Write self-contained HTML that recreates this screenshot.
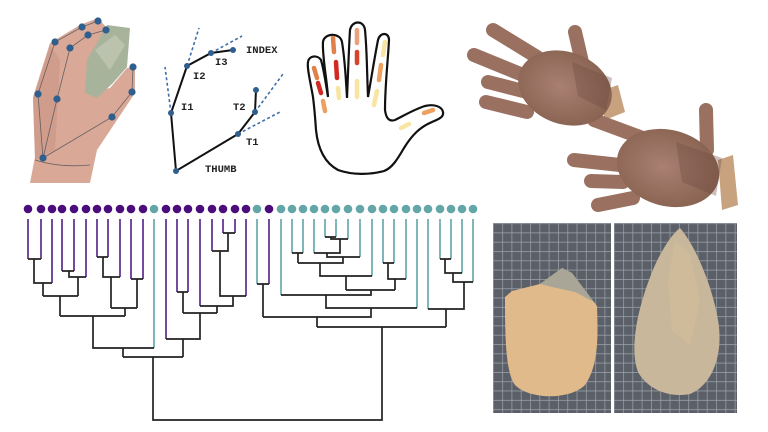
<!DOCTYPE html>
<html><head><meta charset="utf-8"><style>html,body{margin:0;padding:0;background:#fff}svg{display:block}</style></head>
<body>
<svg width="768" height="432" viewBox="0 0 768 432" xmlns="http://www.w3.org/2000/svg">
<defs>
<pattern id="grid" width="9.3" height="9.3" patternUnits="userSpaceOnUse">
<rect width="9.3" height="9.3" fill="#5a5f68"/>
<path d="M0 0.4H9.3M0.4 0V9.3" stroke="#9ea4ac" stroke-width="0.7"/>
</pattern>
<radialGradient id="skin" cx="0.45" cy="0.5" r="0.6"><stop offset="0" stop-color="#a98072"/><stop offset="1" stop-color="#86604f"/></radialGradient>
</defs>

<!-- top-left hand photo -->
<path d="M30 183 L35 157 L33 97 L50 43 L80 25 L98 18 L107 28 L100 43 L87 93 L110 88 L127 68 L135 67 L135 93 L117 120 L97 150 L90 183 Z" fill="#d9a896"/>
<path d="M35 160 L33 100 L50 45 L60 60 L55 150 Z" fill="#c99584" opacity="0.6"/>
<path d="M87 60 L107 25 L130 28 L127 67 L113 83 L97 98 L85 93 Z" fill="#a8b39c"/>
<path d="M95 50 L115 35 L125 45 L110 70 Z" fill="#c3cbb6" opacity="0.7"/>
<g stroke="#4a4f58" stroke-width="0.8" fill="none" opacity="0.8">
<path d="M43 158 L38 94 L55 42 L82 27 L98 21"/>
<path d="M43 158 L57 99 L70 48 L88 35 L106 30"/>
<path d="M43 158 L112 117 L132 92 L133 67"/>
<path d="M35 160 Q60 168 90 165"/>
</g>
<g fill="#2f5f8e">
<circle cx="98" cy="21" r="3.6"/><circle cx="82" cy="27" r="3.6"/><circle cx="106" cy="30" r="3.6"/><circle cx="88" cy="35" r="3.6"/><circle cx="55" cy="42" r="3.6"/><circle cx="70" cy="48" r="3.6"/><circle cx="133" cy="67" r="3.6"/><circle cx="132" cy="92" r="3.6"/><circle cx="38" cy="94" r="3.6"/><circle cx="57" cy="99" r="3.6"/><circle cx="112" cy="117" r="3.6"/><circle cx="43" cy="158" r="3.6"/>
</g>

<!-- skeleton diagram -->
<g stroke="#3f6ea8" stroke-width="1.6" stroke-dasharray="3,2.5" fill="none">
<path d="M171 113 L165 67"/><path d="M187 66 L199 28"/><path d="M211 53 L242 36"/><path d="M255 112 L283 74"/><path d="M238 134 L280 112"/>
</g>
<path d="M233 50 L211 53 L187 66 L171 113 L176 171 L238 134 L255 112 L256 90" stroke="#111" stroke-width="2" fill="none"/>
<g fill="#2f5f8e">
<circle cx="233" cy="50" r="3"/><circle cx="211" cy="53" r="3"/><circle cx="187" cy="66" r="3"/><circle cx="171" cy="113" r="3"/><circle cx="176" cy="171" r="3"/><circle cx="238" cy="134" r="3"/><circle cx="255" cy="112" r="3"/><circle cx="256" cy="90" r="3"/>
</g>
<g font-family="Liberation Mono, monospace" font-weight="bold" font-size="10.5" fill="#222">
<text x="246" y="53">INDEX</text><text x="215" y="65">I3</text><text x="193" y="79">I2</text><text x="181" y="110">I1</text><text x="233" y="110">T2</text><text x="246" y="145">T1</text><text x="205" y="172">THUMB</text>
</g>

<!-- hand outline -->
<path d="M313 97 C310 80 307 68 308 62 C309 55 318 55 321 60 C324 70 326 85 328 97 C327 80 322 55 323 42 C324 33 340 32 342 42 C345 60 346 80 347 98 C348 75 349 45 350 30 C352 20 364 20 365 30 C367 50 367 75 368 97 C371 80 375 55 378 40 C380 32 389 32 389 40 C388 60 385 85 385 110 C386 118 389 122 395 120 C405 115 415 109 425 106 C433 104 442 106 443 112 C444 117 439 119 432 122 C420 127 412 135 404 148 C397 160 392 168 384 171 C370 175 352 175 338 170 C325 163 318 150 316 130 C315 115 314 105 313 97 Z" fill="#fff" stroke="#111" stroke-width="2.2"/>
<g stroke-linecap="round" stroke-width="4.5" fill="none">
<path d="M314 68 L317 78" stroke="#e0814a"/><path d="M318 83 L321 93" stroke="#d02a22"/><path d="M323 101 L325 111" stroke="#eda060"/>
<path d="M333 38 L334 52" stroke="#e0814a"/><path d="M336 62 L337 78" stroke="#d02a22"/><path d="M338 88 L339 98" stroke="#f8e5a4"/>
<path d="M357 30 L357 43" stroke="#eba07e"/><path d="M357 52 L357 63" stroke="#d8432c"/><path d="M357 81 L357 97" stroke="#f8e5a4"/>
<path d="M385 42 L383 55" stroke="#f8e5a4"/><path d="M381 65 L379 80" stroke="#eda060"/><path d="M377 91 L374 105" stroke="#f8e5a4"/>
<path d="M424 113 L433 110" stroke="#eda060"/><path d="M409 124 L401 128" stroke="#f8e5a4"/>
</g>

<!-- 3D hands -->
<path d="M598 92 L618 85 L625 112 L605 120 Z" fill="#c8a27e"/>
<path d="M718 160 L733 155 L738 205 L722 210 Z" fill="#c8a27e"/>
<g stroke-linecap="round" fill="none" stroke="#9a7061" stroke-width="14">
<path d="M493 30 L537 57"/><path d="M474 55 L523 75"/><path d="M488 82 L527 92"/><path d="M486 102 L527 112"/><path d="M575 32 L585 75"/>
<path d="M594 120 L640 137"/><path d="M574 160 L620 165"/><path d="M591 181 L623 182"/><path d="M598 205 L633 198"/><path d="M706 110 L707 150"/>
</g>
<ellipse cx="565" cy="88" rx="48" ry="36" fill="url(#skin)" transform="rotate(20 565 88)"/>
<ellipse cx="668" cy="168" rx="52" ry="38" fill="url(#skin)" transform="rotate(15 668 168)"/>
<path d="M572 62 L612 78 L606 110 L578 96 Z" fill="#6e4a40" opacity="0.35"/>
<path d="M676 142 L722 158 L716 196 L682 182 Z" fill="#6e4a40" opacity="0.35"/>

<!-- stone panels -->
<rect x="493" y="223" width="118" height="190" fill="url(#grid)"/>
<rect x="614" y="223" width="123" height="190" fill="url(#grid)"/>
<path d="M505 297 L512 291 L540 284 L562 268 L572 273 L597 306 C598 335 599 365 585 385 C570 400 530 400 515 385 C505 372 505 330 505 297 Z" fill="#e0ba8a"/>
<path d="M540 284 L562 268 L572 273 L594 302 L575 292 L552 287 Z" fill="#a9a697"/>
<path d="M680 228 C695 245 712 285 718 320 C724 355 712 385 690 394 C670 398 648 390 638 372 C628 345 640 300 655 265 C663 248 672 234 680 228 Z" fill="#c9b79c"/>
<path d="M675 240 L690 255 L700 300 L690 345 L672 330 L668 280 Z" fill="#d3bd98" opacity="0.6"/>

<!-- dendrogram -->
<g stroke-width="1.7" fill="none">
<g stroke="#5b2d8e">
<path d="M28 219V259M41 219V259M52 219V283M62 219V271M74 219V271M86 219V277M97 219V257M108 219V257M120 219V277M131 219V279M143 219V279"/>
<path d="M166 219V339M177 219V292M188 219V292M200 219V306M212 219V251M223 219V233M235 219V233M246 219V296M269 219V284"/>
</g>
<g stroke="#6aa9ab">
<path d="M154 219V348M257 219V284M281 219V295M292 219V253M303 219V253M314 219V253M325 219V237M336 219V237M348 219V239M360 219V257M372 219V276M383 219V263M394 219V263M406 219V279M417 219V308M428 219V309M440 219V259M451 219V259M462 219V273M473 219V282"/>
</g>
<g stroke="#222">
<path d="M28 259H41M34 259V283H52M43 283V296M62 271H74M69 271V277H86M78 277V296M43 296H78M60 296V316"/>
<path d="M97 257H108M103 257V277H120M111 277V308M131 279H143M137 279V308M111 308H137M125 308V316M60 316H125M93 316V348H154M123 348V357"/>
<path d="M177 292H188M183 292V313M223 233H235M228 233V251H212M220 251V296H246M233 296V306H200M217 306V313M183 313H217M200 313V339H166M183 339V357M123 357H183M153 357V420H382V327"/>
<path d="M257 284H269M263 284V317M292 253H303M298 253V263M325 237H336M331 237V239H348M340 239V253H314M327 253V257H360M343 257V263H298M320 263V276H372M346 276V290"/>
<path d="M383 263H394M388 263V279H406M395 279V290M346 290H395M371 290V295H281M326 295V308H417M371 308V317H263M317 317V327"/>
<path d="M440 259H451M445 259V273H462M453 273V282H473M464 282V309H428M446 309V327M317 327H446"/>
</g>
</g>
<g fill="#4b0c7c">
<circle cx="28" cy="209" r="4.3"/><circle cx="41" cy="209" r="4.3"/><circle cx="52" cy="209" r="4.3"/><circle cx="62" cy="209" r="4.3"/><circle cx="74" cy="209" r="4.3"/><circle cx="86" cy="209" r="4.3"/><circle cx="97" cy="209" r="4.3"/><circle cx="108" cy="209" r="4.3"/><circle cx="120" cy="209" r="4.3"/><circle cx="131" cy="209" r="4.3"/><circle cx="143" cy="209" r="4.3"/>
<circle cx="166" cy="209" r="4.3"/><circle cx="177" cy="209" r="4.3"/><circle cx="188" cy="209" r="4.3"/><circle cx="200" cy="209" r="4.3"/><circle cx="212" cy="209" r="4.3"/><circle cx="223" cy="209" r="4.3"/><circle cx="235" cy="209" r="4.3"/><circle cx="246" cy="209" r="4.3"/><circle cx="269" cy="209" r="4.3"/>
</g>
<g fill="#62a6a8">
<circle cx="154" cy="209" r="4.3"/><circle cx="257" cy="209" r="4.3"/><circle cx="281" cy="209" r="4.3"/><circle cx="292" cy="209" r="4.3"/><circle cx="303" cy="209" r="4.3"/><circle cx="314" cy="209" r="4.3"/><circle cx="325" cy="209" r="4.3"/><circle cx="336" cy="209" r="4.3"/><circle cx="348" cy="209" r="4.3"/><circle cx="360" cy="209" r="4.3"/><circle cx="372" cy="209" r="4.3"/><circle cx="383" cy="209" r="4.3"/><circle cx="394" cy="209" r="4.3"/><circle cx="406" cy="209" r="4.3"/><circle cx="417" cy="209" r="4.3"/><circle cx="428" cy="209" r="4.3"/><circle cx="440" cy="209" r="4.3"/><circle cx="451" cy="209" r="4.3"/><circle cx="462" cy="209" r="4.3"/><circle cx="473" cy="209" r="4.3"/>
</g>
</svg>
</body></html>
